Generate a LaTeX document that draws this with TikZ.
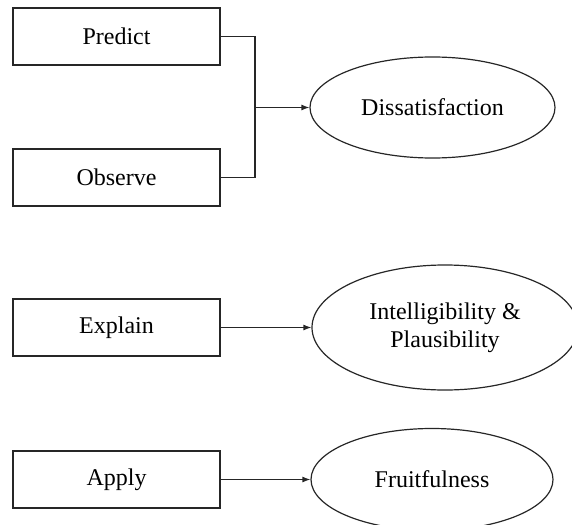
\documentclass[tikz,border=0pt]{standalone}
\usepackage{fontspec}
\setmainfont{Liberation Serif}
\usetikzlibrary{shapes.geometric,arrows.meta}
\begin{document}
\begin{tikzpicture}[x=0.5pt,y=-0.5pt,
  line width=0.6pt,
  stepbox/.style={draw=black!85, rectangle, minimum width=103.5pt, minimum height=28.5pt, inner sep=0pt, font=\fontsize{12}{14}\selectfont},
  oval/.style={draw=black!85, ellipse, inner sep=0pt, align=center, font=\fontsize{12}{14}\selectfont},
  link/.style={draw=black!85},
  arr/.style={draw=black!85, -{Latex[length=4pt,width=3pt]}}]
\useasboundingbox (0,0) rectangle (572,524);
\node[stepbox] (p) at (116.5,36.5) {Predict};
\node[stepbox] (o) at (116.5,177.5) {Observe};
\node[stepbox] (e) at (116.5,327.5) {Explain};
\node[stepbox] (a) at (116.5,479.5) {Apply};
\node[oval, minimum width=122.5pt, minimum height=50.5pt] (d) at (432.5,107.5) {Dissatisfaction};
\node[oval, minimum width=133pt, minimum height=62.5pt] (i) at (445,327.5) {Intelligibility \&\\Plausibility};
\node[oval, minimum width=121pt, minimum height=51pt] (f) at (432,479.5) {Fruitfulness};
\coordinate (j) at (255,107.5);
\draw[link] (p.east) -| (j);
\draw[link] (o.east) -| (j);
\draw[arr] (j) -- (d.west);
\draw[arr] (e.east) -- (i.west);
\draw[arr] (a.east) -- (f.west);
\end{tikzpicture}
\end{document}
